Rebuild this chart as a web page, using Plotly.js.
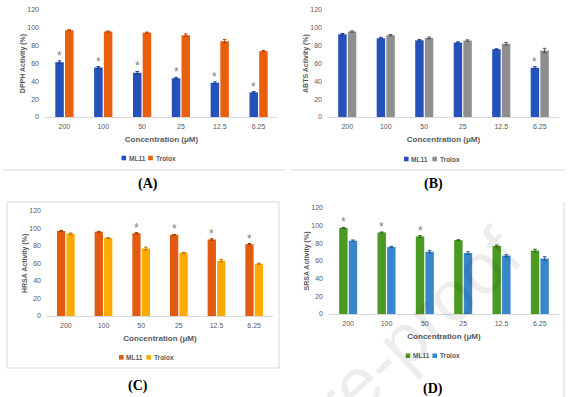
<!DOCTYPE html>
<html>
<head>
<meta charset="utf-8">
<script src="https://cdn.plot.ly/plotly-3.0.1.min.js"></script>
<style>html,body{margin:0;padding:0;background:#fff;}#chart{width:576px;height:397px;}</style>
</head>
<body>
<div id="chart"></div>
<script>
// ---- data ----
const concentrations = ['200', '100', '50', '25', '12.5', '6.25'];
const seriesNames = ['ML11', 'Trolox'];

const dpphML11 = [61.5, 55.5, 49.6, 43.5, 38.4, 27.6];
const dpphML11Err = [1.5, 1.0, 1.5, 1.0, 1.0, 0.8];
const dpphTrolox = [97.3, 95.8, 94.6, 91.7, 85.0, 73.8];
const dpphTroloxErr = [0.6, 0.6, 0.6, 1.5, 2.0, 0.8];
const dpphSig = ['*', '*', '*', '*', '*', '*'];

const abtsML11 = [92.8, 88.3, 86.0, 83.5, 76.0, 55.2];
const abtsML11Err = [0.8, 1.0, 0.8, 0.8, 0.5, 1.2];
const abtsTrolox = [95.8, 91.7, 88.7, 85.7, 82.2, 74.5];
const abtsTroloxErr = [0.8, 0.8, 1.0, 0.8, 1.5, 2.5];
const abtsSig = ['', '', '', '', '', '*'];

const hrsaML11 = [97.0, 96.0, 94.2, 92.5, 87.2, 81.8];
const hrsaML11Err = [0.5, 0.5, 0.8, 0.5, 0.8, 0.8];
const hrsaTrolox = [93.8, 88.8, 77.0, 72.0, 63.0, 59.5];
const hrsaTroloxErr = [0.8, 0.5, 1.5, 0.5, 1.5, 0.6];
const hrsaSig = ['', '', '*', '*', '*', '*'];

const srsaML11 = [97.5, 92.3, 87.8, 83.6, 77.0, 71.8];
const srsaML11Err = [0.5, 0.5, 0.8, 0.5, 1.0, 1.5];
const srsaTrolox = [83.0, 75.8, 70.6, 69.0, 66.0, 62.8];
const srsaTroloxErr = [0.8, 0.8, 1.5, 1.5, 1.0, 2.0];
const srsaSig = ['*', '*', '*', '', '', ''];

const yTitles = ['DPPH Activity (%)', 'ABTS Activity (%)', 'HRSA Activity (%)', 'SRSA Activity (%)'];
const xTitle = 'Concentration (μM)';
const panelLabels = ['(A)', '(B)', '(C)', '(D)'];
const yTickVals = [0, 20, 40, 60, 80, 100, 120];

// ---- styling / layout ----
const W = 576, H = 397;
const px = x => x / W;
const py = y => 1 - y / H;
const txtGrey = '#595959';
const baseFont = 'Liberation Sans, Arial, sans-serif';

const panels = [
  {ml: dpphML11, mlE: dpphML11Err, tr: dpphTrolox, trE: dpphTroloxErr, sig: dpphSig,
   colors: ['#2452BA', '#E8600E'], errColors: ['#1a3a85', '#a8460a'],
   x0: 45, x1: 278, yTop: 10, yBot: 117,
   legY: 158, legSq: [123.8, 150.5], label: [148, 184]},
  {ml: abtsML11, mlE: abtsML11Err, tr: abtsTrolox, trE: abtsTroloxErr, sig: abtsSig,
   colors: ['#2452BA', '#8E8E8E'], errColors: ['#1a3a85', '#555555'],
   x0: 328, x1: 559, yTop: 10, yBot: 117,
   legY: 159, legSq: [406.3, 434.7], label: [433, 184]},
  {ml: hrsaML11, mlE: hrsaML11Err, tr: hrsaTrolox, trE: hrsaTroloxErr, sig: hrsaSig,
   colors: ['#E35B0F', '#FFAA00'], errColors: ['#9a3d08', '#b07500'],
   x0: 47, x1: 273, yTop: 210.7, yBot: 316,
   legY: 357.3, legSq: [121.3, 148.7], label: [138, 386]},
  {ml: srsaML11, mlE: srsaML11Err, tr: srsaTrolox, trE: srsaTroloxErr, sig: srsaSig,
   colors: ['#4B9A22', '#3A86CB'], errColors: ['#2f6515', '#255a8a'],
   x0: 329, x1: 559, yTop: 208, yBot: 314,
   legY: 355.7, legSq: [408, 434.7], label: [433, 389]}
];

const traces = [];
const layout = {
  width: W, height: H, autosize: false,
  margin: {l: 0, r: 0, t: 0, b: 0, pad: 0},
  paper_bgcolor: '#ffffff', plot_bgcolor: 'rgba(0,0,0,0)',
  showlegend: false,
  barmode: 'group', bargap: 0.5, bargroupgap: 0.12,
  font: {family: baseFont, color: txtGrey, size: 7},
  annotations: [], shapes: []
};

panels.forEach((p, i) => {
  const n = i === 0 ? '' : String(i + 1);
  const xa = 'x' + n, ya = 'y' + n;
  const values = [p.ml, p.tr];
  const errs = [p.mlE, p.trE];
  values.forEach((vals, s) => {
    traces.push({
      type: 'bar', name: seriesNames[s], x: concentrations, y: vals,
      xaxis: xa, yaxis: ya,
      marker: {color: p.colors[s], line: {width: 0}},
      error_y: {type: 'data', array: errs[s], visible: true, color: p.errColors[s], thickness: 1, width: 1.8},
      hoverinfo: 'skip'
    });
  });
  // significance stars above ML11 bars (category index positions)
  const catW = (p.x1 - p.x0) / concentrations.length;
  const mlOffset = -catW * (1 - layout.bargap) / 4;
  concentrations.forEach((c, k) => {
    if (!p.sig[k]) return;
    layout.annotations.push({xref: xa, yref: ya, x: k, y: p.ml[k] + p.mlE[k],
      xanchor: 'center', yanchor: 'bottom', xshift: mlOffset, yshift: -4,
      showarrow: false, text: p.sig[k],
      font: {family: baseFont, size: 12, color: '#7f7f7f'}});
  });
  layout['xaxis' + n] = {
    type: 'category', range: [-0.5, concentrations.length - 0.5],
    domain: [px(p.x0), px(p.x1)], anchor: ya,
    showline: true, linecolor: '#d9d9d9', linewidth: 1,
    showgrid: false, zeroline: false, ticks: '',
    tickfont: {size: 7, color: txtGrey, family: baseFont},
    ticklabelstandoff: 3,
    title: {text: '<b>' + xTitle + '</b>', font: {size: 8, color: txtGrey, family: baseFont}, standoff: 6},
    fixedrange: true
  };
  layout['yaxis' + n] = {
    domain: [py(p.yBot), py(p.yTop)], anchor: xa,
    range: [0, 120], tickvals: yTickVals,
    showline: false, showgrid: false, zeroline: false, ticks: '',
    tickfont: {size: 7, color: txtGrey, family: baseFont},
    ticklabelstandoff: 5,
    title: {text: '<b>' + yTitles[i] + '</b>', font: {size: 7, color: txtGrey, family: baseFont}, standoff: 0},
    fixedrange: true
  };
  // legend (manual, small squares)
  seriesNames.forEach((nm, s) => {
    const cx = p.legSq[s], cy = p.legY;
    layout.shapes.push({type: 'rect', xref: 'paper', yref: 'paper',
      x0: px(cx - 2.3), x1: px(cx + 2.3), y0: py(cy + 2.3), y1: py(cy - 2.3),
      fillcolor: p.colors[s], line: {width: 0}});
    layout.annotations.push({xref: 'paper', yref: 'paper', x: px(cx + 3), y: py(cy),
      xanchor: 'left', yanchor: 'middle', showarrow: false,
      text: '<b>' + nm + '</b>', font: {size: 6.5, color: txtGrey, family: baseFont}});
  });
  // panel label
  layout.annotations.push({xref: 'paper', yref: 'paper', x: px(p.label[0]), y: py(p.label[1]),
    xanchor: 'center', yanchor: 'middle', showarrow: false,
    text: '<b>' + panelLabels[i] + '</b>', font: {size: 14, color: '#000000', family: 'Liberation Serif, Times New Roman, serif'}});
});

// chart frames
const frameCol = '#d9d9d9';
layout.shapes.push({type: 'line', xref: 'paper', yref: 'paper', x0: px(2), x1: px(285), y0: py(170), y1: py(170), line: {color: frameCol, width: 1}});
layout.shapes.push({type: 'line', xref: 'paper', yref: 'paper', x0: px(291), x1: px(566), y0: py(170), y1: py(170), line: {color: frameCol, width: 1}});
layout.shapes.push({type: 'rect', xref: 'paper', yref: 'paper', x0: px(7), x1: px(279), y0: py(368), y1: py(202), line: {color: frameCol, width: 1}});
layout.shapes.push({type: 'line', xref: 'paper', yref: 'paper', x0: px(564), x1: px(564), y0: py(202), y1: py(397), line: {color: frameCol, width: 1}});

// watermark
layout.annotations.push({xref: 'paper', yref: 'paper', x: px(305), y: py(432),
  xanchor: 'center', yanchor: 'middle', showarrow: false, textangle: -43,
  text: 'Journal Pre-proof', font: {size: 72, color: 'rgba(0,0,0,0.07)', family: baseFont}});

Plotly.newPlot('chart', traces, layout, {staticPlot: true, displayModeBar: false});
</script>
</body>
</html>
